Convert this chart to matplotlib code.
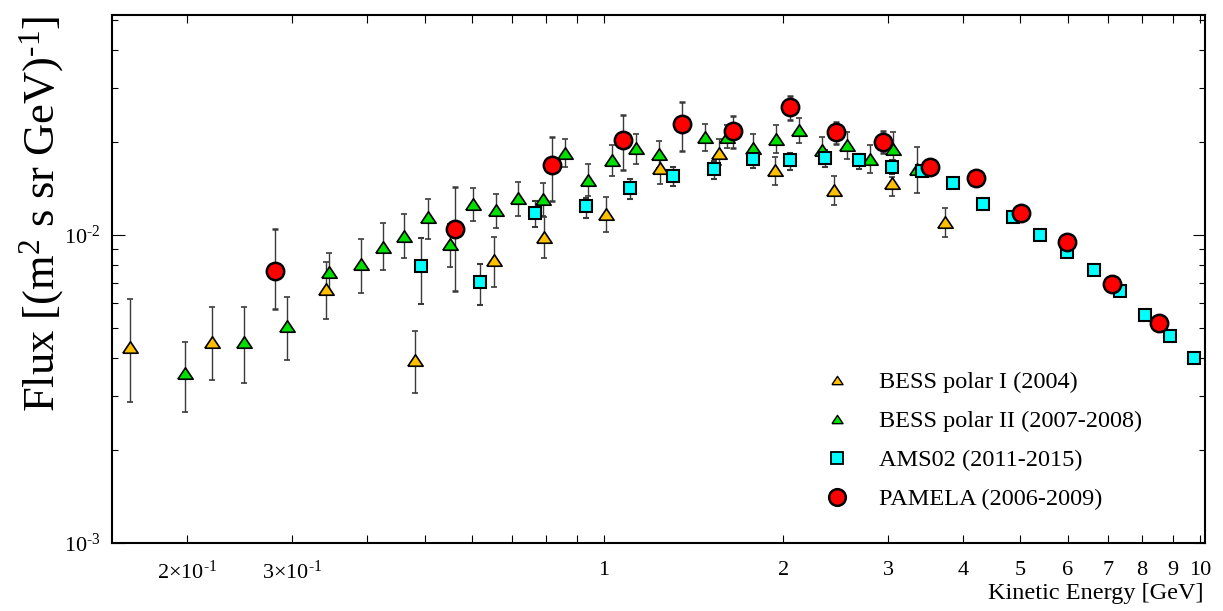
import numpy as np
import matplotlib
matplotlib.use("Agg")
import matplotlib.pyplot as plt
from matplotlib.lines import Line2D

plt.rcParams['font.family'] = 'Liberation Serif'
plt.rcParams['mathtext.fontset'] = 'custom'
plt.rcParams['mathtext.rm'] = 'Liberation Serif'
plt.rcParams['mathtext.it'] = 'Liberation Serif:italic'

# BESS polar I (2004)
bess1_e = [0.160, 0.220, 0.341, 0.482, 0.655, 0.794, 1.007, 1.240, 1.557, 1.939, 2.432, 3.045, 3.738]
bess1_f = [0.00434, 0.00450, 0.00666, 0.00393, 0.00830, 0.00983, 0.0117, 0.01646, 0.01842, 0.01626, 0.0140, 0.01475, 0.0110]
bess1_lo = [0.00286, 0.00338, 0.00533, 0.00306, 0.00680, 0.00842, 0.0102, 0.01464, 0.01688, 0.0145, 0.01251, 0.01336, 0.00983]
bess1_hi = [0.00620, 0.00585, 0.00819, 0.00489, 0.00987, 0.01142, 0.01326, 0.01818, 0.02045, 0.01796, 0.01557, 0.01546, 0.01226]

# BESS polar II (2007-2008)
bess2_e = [0.198, 0.249, 0.294, 0.345, 0.391, 0.426, 0.462, 0.507, 0.552, 0.602, 0.658, 0.718, 0.790, 0.859,
           0.941, 1.031, 1.130, 1.235, 1.476, 1.610, 1.776, 1.944, 2.124, 2.324, 2.557, 2.798, 3.058, 3.351]
bess2_f = [0.00356, 0.00450, 0.00508, 0.00757, 0.00805, 0.00916, 0.00993, 0.01147, 0.00933, 0.01261, 0.01206, 0.01322, 0.01306, 0.01846,
           0.01512, 0.01756, 0.01916, 0.01828, 0.02076, 0.02085, 0.0192, 0.02054, 0.02188, 0.01884, 0.0196, 0.01769, 0.01906, 0.01634]
bess2_lo = [0.00266, 0.00330, 0.00394, 0.00639, 0.00650, 0.00768, 0.00844, 0.0097, 0.00787, 0.0111, 0.01051, 0.01155, 0.01153, 0.01659,
            0.01339, 0.01554, 0.01704, 0.0165, 0.0187, 0.01916, 0.01709, 0.01842, 0.01985, 0.01726, 0.01761, 0.01586, 0.01752, 0.01366]
bess2_hi = [0.0045, 0.00585, 0.0063, 0.00876, 0.00971, 0.01096, 0.01167, 0.01312, 0.01086, 0.01424, 0.01356, 0.01486, 0.01478, 0.02054,
            0.01696, 0.01955, 0.02133, 0.02024, 0.02288, 0.02276, 0.02128, 0.02281, 0.02393, 0.02076, 0.02155, 0.01964, 0.0216, 0.01931]

# AMS02 (2011-2015)
ams_e = [0.494, 0.619, 0.767, 0.932, 1.107, 1.305, 1.530, 1.776, 2.054, 2.348, 2.675, 3.043,
         3.412, 3.846, 4.329, 4.850, 5.396, 5.974, 6.640, 7.350, 8.087, 8.916, 9.770]
ams_f = [0.00793, 0.00702, 0.01179, 0.01239, 0.01421, 0.01557, 0.01638, 0.01765, 0.01748, 0.01782, 0.01748, 0.01659,
         0.01614, 0.01472, 0.01264, 0.01144, 0.00998, 0.00879, 0.00768, 0.0066, 0.00551, 0.0047, 0.00398]
ams_lo = [0.00597, 0.00593, 0.01059, 0.01133, 0.01306, 0.01446, 0.01516, 0.01646, 0.01626, 0.01667, 0.01638, 0.01578,
          0.0159, 0.0145, 0.01245, 0.01127, 0.00983, 0.00866, 0.00757, 0.0065, 0.00543, 0.00463, 0.00392]
ams_hi = [0.00976, 0.00803, 0.01292, 0.01322, 0.0152, 0.01659, 0.01743, 0.01864, 0.01842, 0.01888, 0.01832, 0.01752,
          0.01638, 0.01494, 0.01283, 0.01161, 0.01013, 0.00892, 0.00779, 0.0067, 0.00559, 0.00477, 0.00404]

# PAMELA (2006-2009)
pam_e = [0.2805, 0.563, 0.817, 1.077, 1.353, 1.646, 2.051, 2.448, 2.935, 3.528, 4.204, 5.009, 5.988, 7.127, 8.546]
pam_f = [0.00766, 0.01048, 0.01691, 0.02034, 0.02293, 0.02181, 0.02598, 0.02155, 0.02009, 0.01659, 0.01531, 0.01181, 0.00951, 0.00692, 0.00518]
pam_lo = [0.00575, 0.00657, 0.01289, 0.01626, 0.01878, 0.0192, 0.02357, 0.01975, 0.01842, 0.0161, 0.0149, 0.0115, 0.00925, 0.00672, 0.00503]
pam_hi = [0.01046, 0.01435, 0.02076, 0.02453, 0.02697, 0.0244, 0.02828, 0.02332, 0.02181, 0.0171, 0.0157, 0.0121, 0.00978, 0.00712, 0.00533]

labels = ["BESS polar I (2004)", "BESS polar II (2007-2008)", "AMS02 (2011-2015)", "PAMELA (2006-2009)"]

xticks = [0.2, 0.3, 0.4, 0.5, 0.6, 0.7, 0.8, 0.9, 1, 2, 3, 4, 5, 6, 7, 8, 9, 10]
xticklabels = ['2\u00d710$^{\u20101}$', '3\u00d710$^{\u20101}$', '', '', '', '', '', '', '1', '2', '3', '4', '5', '6', '7', '8', '9', '10']

# flat triangle, centred on its bounding box
tri = [(-1, -0.75), (1, -0.75), (0, 0.75), (-1, -0.75)]


def yerr(f, lo, hi):
    f = np.array(f)
    return [f - np.array(lo), np.array(hi) - f]


fig = plt.figure(figsize=(12.23, 6.11), dpi=100)
ax = fig.add_axes([112/1223, 1-543/611, (1205-112)/1223, (543-15)/611])

ebkw = dict(linestyle='none', ecolor='#3a3a3a', elinewidth=1.0, capsize=2, capthick=1.0, markeredgecolor='black')
ax.errorbar(bess1_e, bess1_f, yerr=yerr(bess1_f, bess1_lo, bess1_hi), marker=tri, ms=11,
            markerfacecolor='#FFC000', markeredgewidth=1.2, **ebkw)
ax.errorbar(bess2_e, bess2_f, yerr=yerr(bess2_f, bess2_lo, bess2_hi), marker=tri, ms=11,
            markerfacecolor='#00E000', markeredgewidth=1.2, **ebkw)
ax.errorbar(ams_e, ams_f, yerr=yerr(ams_f, ams_lo, ams_hi), marker='s', ms=8,
            markerfacecolor='#00FFFF', markeredgewidth=1.5, **ebkw)
ax.errorbar(pam_e, pam_f, yerr=yerr(pam_f, pam_lo, pam_hi), marker='o', ms=12.5,
            markerfacecolor='#FF0000', markeredgewidth=1.8, **ebkw)

ax.set_xscale('log')
ax.set_yscale('log')
ax.set_xlim(0.1494, 10.2)
ax.set_ylim(1e-3, 0.0518)

ax.set_xticks(xticks)
ax.set_xticklabels(xticklabels)
ax.xaxis.set_minor_locator(matplotlib.ticker.NullLocator())
ax.set_yticks([1e-3, 1e-2])
ax.set_yticklabels(['10$^{\u20103}$', '10$^{\u20102}$'])
ax.yaxis.set_minor_locator(matplotlib.ticker.LogLocator(base=10, subs=np.arange(2, 10)))
ax.yaxis.set_minor_formatter(matplotlib.ticker.NullFormatter())

ax.tick_params(axis='x', which='major', direction='in', top=True, length=5.5, width=0.8, labelsize=16, pad=13)
ax.tick_params(axis='y', which='major', direction='in', right=True, length=9, width=0.8, labelsize=16, pad=8)
ax.tick_params(axis='y', which='minor', direction='in', right=True, length=4.5, width=0.8)
for s in ax.spines.values():
    s.set_linewidth(1.5)

fig.text(42/1223, 1-214/611, 'Flux [(m$^2$ s sr GeV)$^{\u20101}$]', rotation=90, ha='center', va='center', fontsize=32)
fig.text(1203/1223, 1-594/611, 'Kinetic Energy [GeV]', ha='right', va='center', fontsize=17.5)

handles = [
    Line2D([], [], linestyle='none', marker=tri, ms=8, markerfacecolor='#FFC000', markeredgecolor='black', markeredgewidth=1),
    Line2D([], [], linestyle='none', marker=tri, ms=8, markerfacecolor='#00E000', markeredgecolor='black', markeredgewidth=1),
    Line2D([], [], linestyle='none', marker='s', ms=8, markerfacecolor='#00FFFF', markeredgecolor='black', markeredgewidth=1.3),
    Line2D([], [], linestyle='none', marker='o', ms=12, markerfacecolor='#FF0000', markeredgecolor='black', markeredgewidth=1.8),
]
ax.legend(handles, labels, loc='upper left', bbox_to_anchor=(818/1223, 1-371/611), bbox_transform=fig.transFigure,
          frameon=False, fontsize=17.5, handlelength=1.6, handletextpad=0.93, borderpad=0, labelspacing=0.7, borderaxespad=0)

fig.savefig('out.png', dpi=100, facecolor='white')
